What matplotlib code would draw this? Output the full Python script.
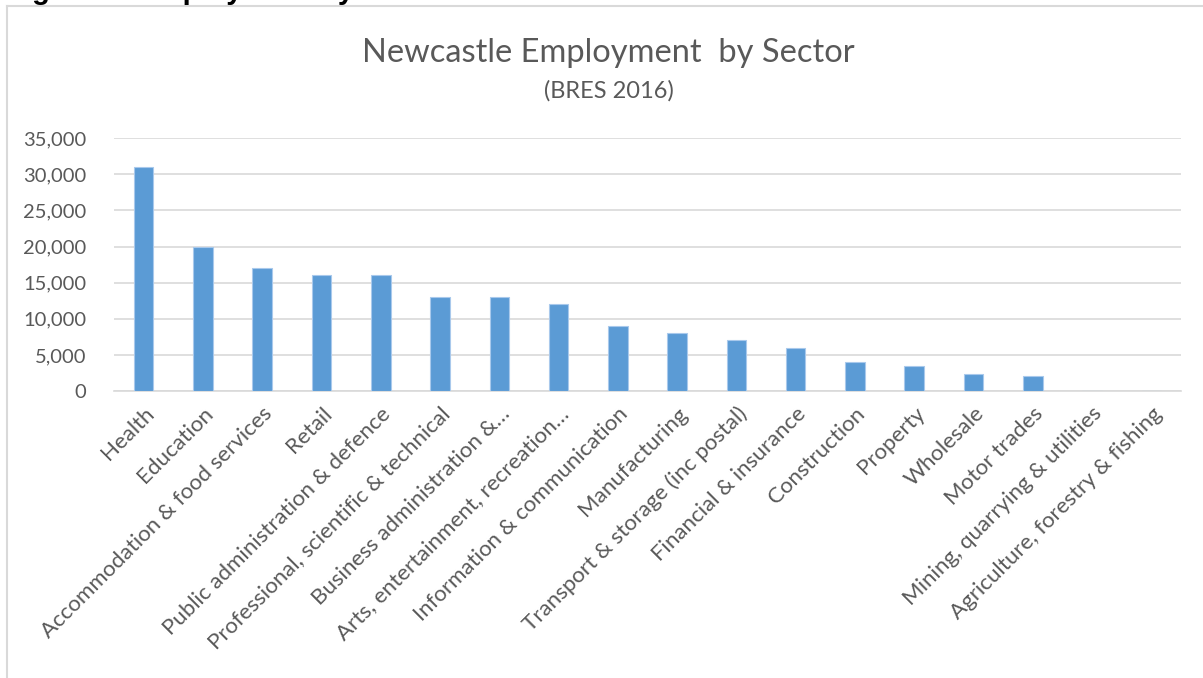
import matplotlib
matplotlib.use('Agg')
import matplotlib.pyplot as plt
from matplotlib.lines import Line2D
from matplotlib.ticker import FuncFormatter

# Employment by sector, BRES 2016
sectors = [
    "Health", "Education", "Accommodation & food services", "Retail",
    "Public administration & defence", "Professional, scientific & technical",
    "Business administration &\u2026", "Arts, entertainment, recreation\u2026",
    "Information & communication", "Manufacturing",
    "Transport & storage (inc postal)", "Financial & insurance",
    "Construction", "Property", "Wholesale", "Motor trades",
    "Mining, quarrying & utilities", "Agriculture, forestry & fishing",
]
employees = [31000, 20000, 17000, 16000, 16000, 13000, 13000, 12000, 9000,
             8000, 7000, 5900, 4000, 3500, 2300, 2100, 0, 0]
y_ticks = [0, 5000, 10000, 15000, 20000, 25000, 30000, 35000]

W, H = 1203, 678
grey_text = '#595959'
grid_col = '#D9D9D9'
bar_col = '#5B9BD5'

plt.rcParams['font.family'] = ['Lato', 'DejaVu Sans']

fig = plt.figure(figsize=(W / 100, H / 100), dpi=100)
ax = fig.add_axes([114 / W, 1 - 391 / H, (1181 - 114) / W, (391 - 138.3) / H])

x = range(len(sectors))
ax.bar(x, employees, width=0.33, color=bar_col, edgecolor='#A9C9EC',
       linewidth=0.8, zorder=3)

ax.set_xlim(-0.5, len(sectors) - 0.5)
ax.set_ylim(0, 35000)
ax.set_yticks(y_ticks)
ax.yaxis.set_major_formatter(FuncFormatter(lambda v, p: f"{int(v):,}"))
ax.grid(axis='y', color=grid_col, linewidth=1.2, zorder=0)
ax.set_axisbelow(True)
for s in ['top', 'right', 'left']:
    ax.spines[s].set_visible(False)
ax.spines['bottom'].set_color(grid_col)
ax.spines['bottom'].set_linewidth(1.2)
ax.tick_params(axis='both', length=0, labelcolor=grey_text)
ax.tick_params(axis='y', labelsize=14.5, pad=20)
ax.set_xticks(list(x))
ax.set_xticklabels(sectors, rotation=45, ha='right', rotation_mode='anchor')
ax.tick_params(axis='x', labelsize=16, pad=9)

fig.text(608 / W, 1 - 53 / H, "Newcastle Employment  by Sector",
         ha='center', va='center', fontsize=23.5, color=grey_text)
fig.text(609 / W, 1 - 91 / H, "(BRES 2016)",
         ha='center', va='center', fontsize=17, color=grey_text)

# chart frame and the caption sitting above it
fig.add_artist(Line2D([7 / W, 7 / W], [0, 1 - 6 / H], color=grid_col, lw=1.5))
fig.add_artist(Line2D([7 / W, 1], [1 - 6 / H, 1 - 6 / H], color=grid_col, lw=1.5))
fig.text(6 / W, 1 + 1 / H, "Figure 5: Employment by Sector", ha='left',
         va='baseline', fontsize=21, fontweight='bold',
         family=['Liberation Sans', 'DejaVu Sans'], color='black')

fig.savefig('out.png', dpi=100)
